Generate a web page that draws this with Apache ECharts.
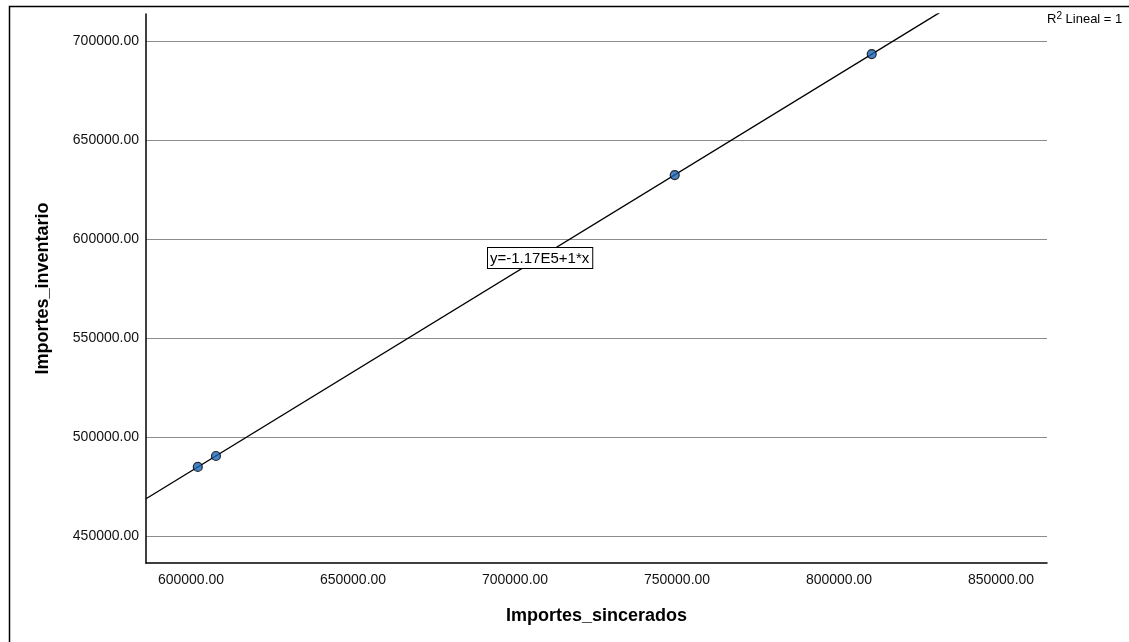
<!DOCTYPE html>
<html>
<head>
<meta charset="utf-8">
<script src="https://cdn.jsdelivr.net/npm/echarts@6/dist/echarts.min.js"></script>
<style>
html,body{margin:0;padding:0;background:#fff;}
#chart{width:1129px;height:642px;}
</style>
</head>
<body>
<div id="chart"></div>
<script>
// ---- data ----
const importesSincerados = [602100, 607700, 749300, 810100];
const importesInventario = [484900, 490400, 632300, 693400];
const xAxisName = 'Importes_sincerados';
const yAxisName = 'Importes_inventario';
const equationText = 'y=-1.17E5+1*x';
const xRange = [586111, 864197];
const yRange = [436364, 713637];

// least squares fit from the points
const n = importesSincerados.length;
const mx = importesSincerados.reduce((a, b) => a + b, 0) / n;
const my = importesInventario.reduce((a, b) => a + b, 0) / n;
let sxy = 0, sxx = 0;
for (let i = 0; i < n; i++) {
  sxy += (importesSincerados[i] - mx) * (importesInventario[i] - my);
  sxx += (importesSincerados[i] - mx) ** 2;
}
const slope = sxy / sxx;
const intercept = my - slope * mx;
const fitLine = [xRange[0], xRange[1]].map(x => [x, intercept + slope * x]);
const points = importesSincerados.map((x, i) => [x, importesInventario[i]]);

const FONT = "'Liberation Sans', Arial, sans-serif";
const chart = echarts.init(document.getElementById('chart'));
chart.setOption({
  animation: false,
  backgroundColor: '#fff',
  grid: {left: 146, right: 82, top: 14, bottom: 79, containLabel: false},
  xAxis: {
    type: 'value', min: xRange[0], max: xRange[1],
    name: xAxisName, nameLocation: 'middle', nameGap: 44,
    nameTextStyle: {fontFamily: FONT, fontSize: 18, fontWeight: 'bold', color: '#000'},
    axisLine: {show: true, lineStyle: {color: '#000', width: 1.5}},
    axisTick: {show: false},
    splitLine: {show: false},
    axisLabel: {showMinLabel: false, showMaxLabel: false, margin: 10,
      fontFamily: FONT, fontSize: 14, color: '#111',
      formatter: v => v.toFixed(2)}
  },
  yAxis: {
    type: 'value', min: yRange[0], max: yRange[1],
    name: yAxisName, nameLocation: 'middle', nameGap: 94,
    nameTextStyle: {fontFamily: FONT, fontSize: 18, fontWeight: 'bold', color: '#000'},
    axisLine: {show: true, lineStyle: {color: '#000', width: 1.5}},
    axisTick: {show: false},
    splitLine: {show: true, showMinLine: false, showMaxLine: false,
      lineStyle: {color: '#8c8c8c', width: 1.2}},
    axisLabel: {showMinLabel: false, showMaxLabel: false, margin: 7,
      fontFamily: FONT, fontSize: 14, color: '#111',
      formatter: v => v.toFixed(2)}
  },
  series: [
    {
      type: 'line', data: fitLine, showSymbol: false, symbol: 'none', clip: true,
      lineStyle: {color: '#000', width: 1.4}, z: 2, silent: true
    },
    {
      type: 'scatter', data: points, symbol: 'circle', symbolSize: 9,
      itemStyle: {color: '#1b64b4', borderColor: '#000', borderWidth: 1.2}, z: 3
    }
  ],
  graphic: [
    {type: 'rect', left: 7, top: 4, shape: {width: 1200, height: 700},
      style: {fill: 'none', stroke: '#000', lineWidth: 1.5}, z: 10, silent: true},
    {type: 'text', left: 1047, top: 11,
      style: {text: 'R{sup|2} Lineal = 1', fontFamily: FONT, fontSize: 13, fill: '#000',
        rich: {sup: {fontFamily: FONT, fontSize: 10, fill: '#000', verticalAlign: 'top', padding: [0, 0, 6, 0]}}}, z: 10},
    {type: 'text', left: 487, top: 247,
      style: {text: equationText, fontFamily: FONT, fontSize: 15, fill: '#000',
        backgroundColor: '#fff', borderColor: '#000', borderWidth: 1,
        padding: [3, 3, 2, 2]}, z: 10}
  ]
});
</script>
</body>
</html>
